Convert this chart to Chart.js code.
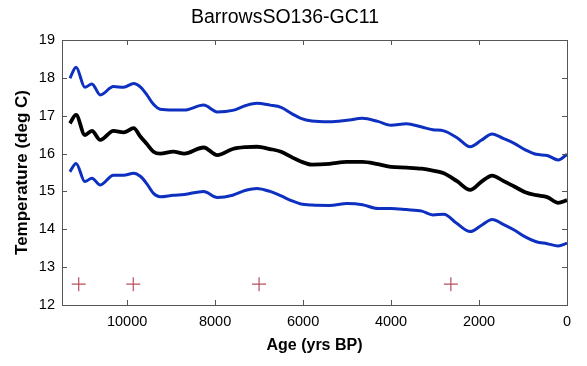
<!DOCTYPE html>
<html>
<head>
<meta charset="utf-8">
<script src="https://cdn.jsdelivr.net/npm/chart.js@4/dist/chart.umd.min.js"></script>
<style>
  body { margin: 0; background: #fff; }
  #wrap { width: 587px; height: 366px; }
</style>
</head>
<body>
<div id="wrap"><canvas id="c"></canvas></div>
<script>
const title = 'BarrowsSO136-GC11';

// ages (yrs BP) the curves were read at
const ages = [11300, 11160, 10960, 10800, 10610, 10310, 10080, 9850, 9700, 9550, 9400, 9250, 8950, 8700,
  8260, 7950, 7600, 7300, 7050, 6750, 6500, 6250, 6050, 5800, 5400, 5000, 4650, 4300, 4000, 3650,
  3300, 3050, 2800, 2500, 2200, 1950, 1700, 1450, 1200, 950, 700, 450, 200, 0];

const upper = [17.99, 18.28, 17.75, 17.84, 17.55, 17.77, 17.75, 17.85, 17.76, 17.55, 17.3, 17.17, 17.15, 17.15,
  17.28, 17.1, 17.14, 17.27, 17.33, 17.28, 17.22, 17.05, 16.93, 16.86, 16.84, 16.88, 16.93, 16.85, 16.75, 16.79,
  16.7, 16.63, 16.6, 16.42, 16.18, 16.35, 16.52, 16.4, 16.27, 16.1, 15.98, 15.95, 15.83, 15.98];

const mean = [16.8, 17.02, 16.49, 16.6, 16.36, 16.6, 16.56, 16.67, 16.45, 16.25, 16.05, 16.0, 16.05, 16.0,
  16.16, 15.96, 16.12, 16.17, 16.18, 16.12, 16.05, 15.9, 15.79, 15.71, 15.73, 15.78, 15.78, 15.72, 15.65, 15.63,
  15.6, 15.55, 15.48, 15.27, 15.04, 15.25, 15.42, 15.28, 15.13, 14.98, 14.9, 14.85, 14.7, 14.77];

const lower = [15.52, 15.74, 15.26, 15.35, 15.17, 15.43, 15.43, 15.48, 15.4, 15.2, 14.95, 14.86, 14.9, 14.92,
  15.0, 14.84, 14.9, 15.03, 15.08, 15.0, 14.88, 14.75, 14.67, 14.64, 14.63, 14.68, 14.65, 14.55, 14.55, 14.52,
  14.48, 14.38, 14.4, 14.15, 13.94, 14.1, 14.26, 14.13, 13.98, 13.8, 13.67, 13.62, 13.56, 13.63];

// age control points (crosses along the bottom)
const dateAges = [11100, 9860, 7000, 2640];
const dateLevel = [12.55, 12.55, 12.55, 12.55];

const xTicks = [10000, 8000, 6000, 4000, 2000, 0];
const yTicks = [12, 13, 14, 15, 16, 17, 18, 19];

const pts = (xs, ys) => xs.map((x, i) => ({ x: x, y: ys[i] }));

// matlab-like box with inward ticks on all four sides
const boxPlugin = {
  id: 'box',
  afterDraw(chart) {
    const { ctx, chartArea: a, scales } = chart;
    ctx.save();
    ctx.strokeStyle = '#555';
    ctx.lineWidth = 1;
    ctx.strokeRect(a.left + 0.5, a.top + 0.5, a.right - a.left, a.bottom - a.top);
    ctx.beginPath();
    xTicks.forEach(v => {
      const px = Math.round(scales.x.getPixelForValue(v)) + 0.5;
      ctx.moveTo(px, a.bottom); ctx.lineTo(px, a.bottom - 5);
      ctx.moveTo(px, a.top); ctx.lineTo(px, a.top + 5);
    });
    yTicks.forEach(v => {
      const py = Math.round(scales.y.getPixelForValue(v)) + 0.5;
      ctx.moveTo(a.left, py); ctx.lineTo(a.left + 5, py);
      ctx.moveTo(a.right, py); ctx.lineTo(a.right - 5, py);
    });
    ctx.stroke();
    ctx.fillStyle = '#000';
    ctx.font = '19.5px "Liberation Sans", Arial, sans-serif';
    ctx.textAlign = 'center';
    ctx.textBaseline = 'middle';
    ctx.fillText(title, 285, 18);
    ctx.restore();
  }
};

const font = '"Liberation Sans", Arial, sans-serif';

new Chart(document.getElementById('c'), {
  type: 'line',
  data: {
    datasets: [
      { data: pts(ages, upper), borderColor: '#0d30c0', borderWidth: 3 },
      { data: pts(ages, lower), borderColor: '#0d30c0', borderWidth: 3 },
      { data: pts(ages, mean), borderColor: '#000', borderWidth: 3.8 },
      {
        data: pts(dateAges, dateLevel), showLine: false, pointStyle: 'cross',
        pointRadius: 7, borderColor: '#b5505e', borderWidth: 1.2
      }
    ]
  },
  options: {
    responsive: true,
    maintainAspectRatio: false,
    animation: false,
    layout: { padding: { top: 40, right: 20, left: 0, bottom: 0 } },
    elements: {
      line: { tension: 0.4, cubicInterpolationMode: 'monotone' },
      point: { radius: 0 }
    },
    plugins: { legend: { display: false }, tooltip: { enabled: false }, title: { display: false } },
    scales: {
      x: {
        type: 'linear', reverse: true, min: 0, max: 11480,
        afterFit(s) { s.height = 61; },
        afterBuildTicks(s) { s.ticks = xTicks.map(v => ({ value: v })); },
        grid: { display: false, drawTicks: false },
        border: { display: false },
        ticks: {
          color: '#000', padding: 8, font: { family: font, size: 14.5 },
          callback: v => String(v)
        },
        title: {
          display: true, text: 'Age (yrs BP)', color: '#000',
          font: { family: font, size: 16, weight: 'bold' },
          padding: { top: 2, bottom: 11 }
        }
      },
      y: {
        type: 'linear', min: 12, max: 19,
        afterFit(s) { s.width = 62; },
        afterBuildTicks(s) { s.ticks = yTicks.map(v => ({ value: v })); },
        grid: { display: false, drawTicks: false },
        border: { display: false },
        ticks: {
          color: '#000', padding: 7, font: { family: font, size: 14.5 },
          callback: v => String(v)
        },
        title: {
          display: true, text: 'Temperature (deg C)', color: '#000',
          font: { family: font, size: 17, weight: 'bold' },
          padding: { top: 12, bottom: 0 }
        }
      }
    }
  },
  plugins: [boxPlugin]
});
</script>
</body>
</html>
